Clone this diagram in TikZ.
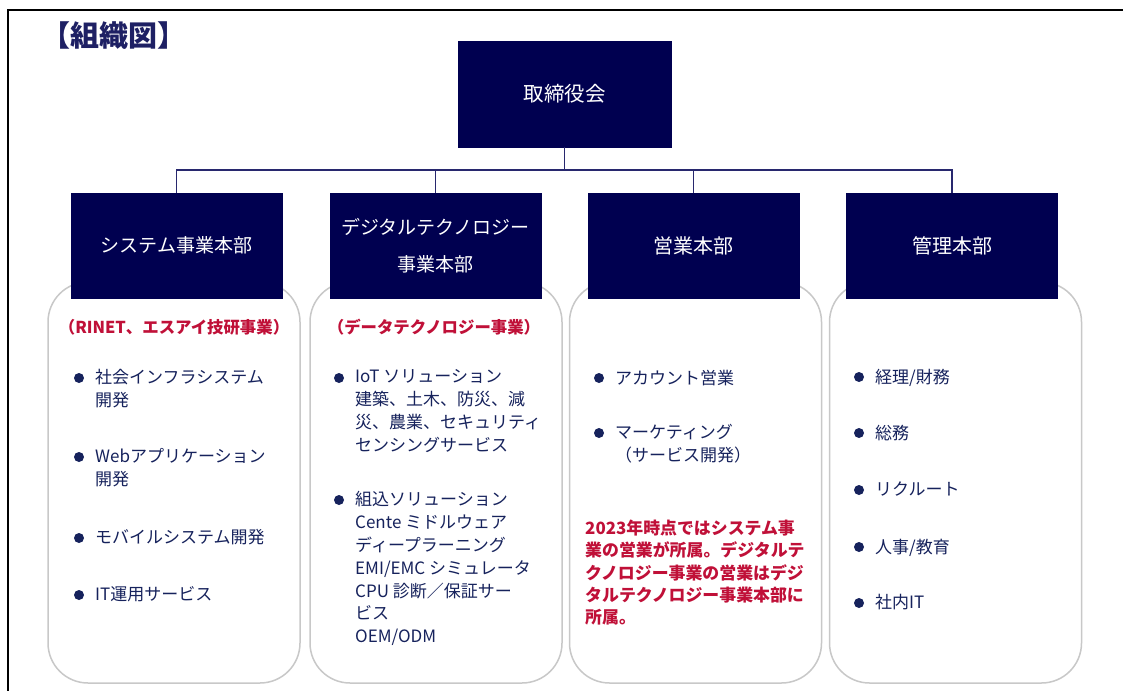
\documentclass[tikz,border=0pt]{standalone}
\usepackage{fontspec}
\setmainfont{Noto Sans CJK JP}
\definecolor{navybox}{RGB}{0,0,80}
\definecolor{txtnavy}{RGB}{22,34,92}
\definecolor{titlenavy}{RGB}{30,32,100}
\definecolor{notered}{RGB}{192,16,56}
\definecolor{rgrey}{RGB}{200,200,200}
\definecolor{connc}{RGB}{40,40,110}
\tikzset{
  headbox/.style={fill=navybox, draw=navybox, text=white, align=center, inner sep=0pt},
  rbox/.style={draw=rgrey, line width=1.5pt, rounded corners=40pt, fill=white,
    minimum width=252pt, minimum height=401pt, inner sep=0pt},
  conn/.style={draw=connc, line width=1.6pt},
  item/.style={anchor=north west, inner sep=0pt, align=left, text=txtnavy,
    font=\fontsize{17}{22.8}\selectfont},
  bul/.style={circle, fill=txtnavy, inner sep=0pt, minimum size=10pt},
  redhead/.style={inner sep=0pt, text=notered, font=\bfseries\fontsize{16.4}{16.4}\selectfont},
  rednote/.style={anchor=north west, inner sep=0pt, align=left, text=notered,
    font=\bfseries\fontsize{16.9}{22.2}\selectfont},
}
\begin{document}
\begin{tikzpicture}[x=1pt,y=-1pt]
\useasboundingbox (0,0) rectangle (1123,690);
\fill[white] (0,0) rectangle (1123,690);
% frame
\draw[black, line width=2pt] (8,691) -- (8,10) -- (1124,10);
% title
\node[inner sep=0pt, text=titlenavy, font=\bfseries\fontsize{29}{29}\selectfont] (title) at (114,36) {【組織図】};
% rounded panels
\node[rbox] (r1) at (174,482.5) {};
\node[rbox] (r2) at (436,482.5) {};
\node[rbox] (r3) at (695.5,482.5) {};
\node[rbox] (r4) at (955.5,482.5) {};
% top box
\node[headbox, minimum width=213pt, minimum height=106pt, font=\fontsize{20.5}{20.5}\selectfont] (top) at (564.5,94) {取締役会};
% department boxes
\node[headbox, minimum width=211pt, minimum height=105pt, font=\fontsize{19}{37}\selectfont] (d1) at (176.5,245.5) {システム事業本部};
\node[headbox, minimum width=211pt, minimum height=105pt, font=\fontsize{19}{37}\selectfont] (d2) at (435.5,245.5) {デジタルテクノロジー\\事業本部};
\node[headbox, minimum width=211pt, minimum height=105pt, font=\fontsize{20}{37}\selectfont] (d3) at (693.5,245.5) {営業本部};
\node[headbox, minimum width=211pt, minimum height=105pt, font=\fontsize{20}{37}\selectfont] (d4) at (952,245.5) {管理本部};
% connectors
\coordinate (bar) at (0,170);
\draw[conn] (top.south) -- (top.south |- bar) -| (d1.north);
\draw[conn] (top.south |- bar) -| (d2.north);
\draw[conn] (top.south |- bar) -| (d3.north);
\draw[conn] (top.south |- bar) -| (d4.north);
% red headings
\node[redhead] (h1) at (174,327) {（RINET、エスアイ技研事業）};
\node[redhead] (h2) at (434,327) {（データテクノロジー事業）};
% column 1
\node[bul] (b11) at (79,378) {};
\node[item] (t11) at (95,369.5) {社会インフラシステム\\開発};
\node[bul] (b12) at (79,457) {};
\node[item] (t12) at (95,448.5) {Webアプリケーション\\開発};
\node[bul] (b13) at (79,538) {};
\node[item] (t13) at (95,529.5) {モバイルシステム開発};
\node[bul] (b14) at (79,595) {};
\node[item] (t14) at (95,586.5) {IT運用サービス};
% column 2
\node[bul] (b21) at (339,378) {};
\node[item] (t21) at (355,369.5) {IoT ソリューション\\建築、土木、防災、減\\災、農業、セキュリティ\\センシングサービス};
\node[bul] (b22) at (339,500) {};
\node[item] (t22) at (355,491.5) {組込ソリューション\\Cente ミドルウェア\\ディープラーニング\\EMI/EMC シミュレータ\\CPU 診断／保証サー\\ビス\\OEM/ODM};
% column 3
\node[bul] (b31) at (599,378) {};
\node[item] (t31) at (615,369.5) {アカウント営業};
\node[bul] (b32) at (599,433) {};
\node[item] (t32) at (615,424.5) {マーケティング\\（サービス開発）};
\node[rednote] (n3) at (585,520) {2023年時点ではシステム事\\業の営業が所属。デジタルテ\\クノロジー事業の営業はデジ\\タルテクノロジー事業本部に\\所属。};
% column 4
\node[bul] (b41) at (859,377) {};
\node[item] (t41) at (875,368.5) {経理/財務};
\node[bul] (b42) at (859,433) {};
\node[item] (t42) at (875,424.5) {総務};
\node[bul] (b43) at (859,490) {};
\node[item] (t43) at (875,481.5) {リクルート};
\node[bul] (b44) at (859,547) {};
\node[item] (t44) at (875,538.5) {人事/教育};
\node[bul] (b45) at (859,603) {};
\node[item] (t45) at (875,594.5) {社内IT};
\end{tikzpicture}
\end{document}
